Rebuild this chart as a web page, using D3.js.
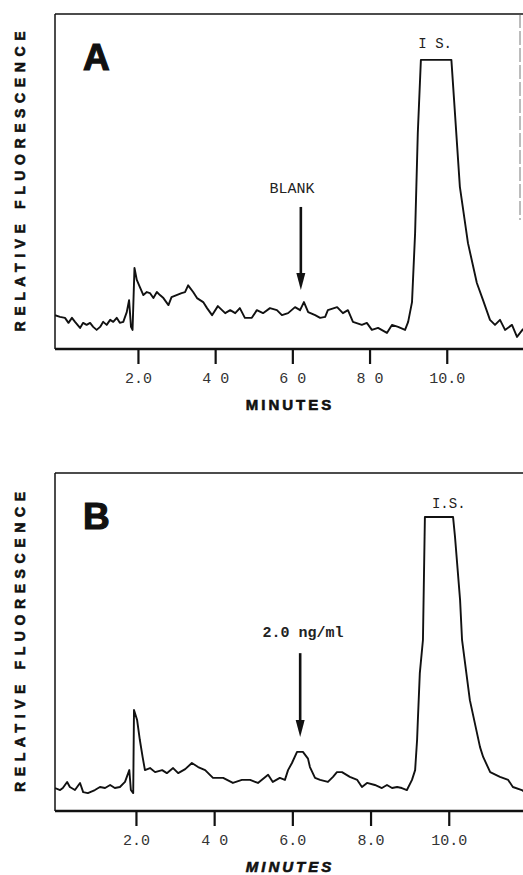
<!DOCTYPE html>
<html>
<head>
<meta charset="utf-8">
<script src="https://cdn.jsdelivr.net/npm/d3@7"></script>
<style>
  body { margin: 0; background: #fff; }
</style>
</head>
<body>
<div id="chart"></div>
<script>
// chromatogram A (blank): [minutes, relative fluorescence]
const traceA = [
  [-0.15, 10.1], [-0.02, 9.6], [0.11, 9.3], [0.20, 7.8], [0.29, 9.3], [0.37, 8.1], [0.50, 6.3],
  [0.58, 7.8], [0.67, 7.2], [0.76, 7.8], [0.84, 6.6], [0.93, 5.7], [1.02, 6.6], [1.10, 8.1],
  [1.19, 7.2], [1.28, 8.7], [1.36, 8.1], [1.45, 9.3], [1.53, 7.8], [1.62, 8.1], [1.71, 11.0],
  [1.77, 14.6], [1.82, 6.6], [1.86, 5.7], [1.91, 24.2], [1.97, 20.6], [2.05, 18.5], [2.14, 16.1],
  [2.23, 17.0], [2.31, 16.7], [2.40, 15.2], [2.49, 17.0], [2.57, 16.1], [2.66, 15.2], [2.79, 13.1],
  [2.87, 15.5], [3.00, 16.1], [3.13, 16.7], [3.22, 17.0], [3.30, 19.0], [3.43, 17.0], [3.53, 15.2],
  [3.69, 14.0], [3.79, 12.2], [3.92, 10.1], [4.07, 12.8], [4.26, 10.7], [4.39, 11.6], [4.52, 10.7],
  [4.64, 12.2], [4.77, 9.3], [4.95, 9.3], [5.08, 11.6], [5.24, 10.7], [5.42, 12.2], [5.60, 11.6],
  [5.73, 10.1], [5.89, 10.7], [6.07, 12.5], [6.20, 11.6], [6.30, 14.0], [6.41, 11.0], [6.59, 10.1],
  [6.72, 9.3], [6.85, 9.6], [6.92, 11.6], [7.16, 12.5], [7.31, 10.7], [7.44, 11.6], [7.57, 8.1],
  [7.80, 7.2], [7.93, 7.8], [8.06, 5.7], [8.22, 6.3], [8.45, 4.8], [8.58, 7.2], [8.74, 6.6],
  [8.92, 5.7], [9.00, 8.1], [9.10, 14.0], [9.18, 34.6], [9.25, 64.5], [9.33, 86.3], [10.12, 86.3],
  [10.19, 74.3], [10.34, 48.4], [10.55, 31.6], [10.78, 19.7], [10.94, 14.6], [11.12, 8.7],
  [11.25, 7.2], [11.38, 8.7], [11.51, 5.7], [11.69, 7.2], [11.82, 3.6], [11.90, 4.8], [11.98, 6.0]
];

// chromatogram B (2.0 ng/ml)
const traceB = [
  [-0.07, 6.8], [0.06, 6.2], [0.13, 6.8], [0.24, 8.6], [0.31, 7.1], [0.44, 6.2], [0.57, 8.3],
  [0.65, 5.6], [0.77, 5.3], [0.95, 6.2], [1.08, 7.1], [1.21, 6.8], [1.34, 7.7], [1.46, 6.8],
  [1.59, 7.1], [1.72, 8.6], [1.83, 12.1], [1.87, 6.2], [1.93, 5.3], [1.95, 29.9], [2.03, 26.9],
  [2.10, 21.0], [2.17, 16.0], [2.23, 12.1], [2.36, 12.7], [2.49, 11.5], [2.67, 12.1], [2.79, 11.2],
  [2.95, 12.7], [3.08, 11.2], [3.26, 12.4], [3.43, 14.2], [3.59, 13.0], [3.77, 12.1], [3.97, 9.8],
  [4.23, 9.8], [4.48, 8.3], [4.71, 9.2], [4.92, 9.2], [5.12, 8.3], [5.38, 10.7], [5.50, 8.6],
  [5.68, 9.8], [5.81, 9.2], [5.89, 12.1], [5.99, 14.2], [6.12, 17.5], [6.27, 17.5], [6.40, 15.5],
  [6.45, 13.0], [6.58, 9.8], [6.71, 9.2], [6.91, 8.6], [7.04, 10.1], [7.14, 11.5], [7.27, 11.5],
  [7.47, 10.1], [7.66, 9.2], [7.78, 7.1], [7.91, 8.3], [8.11, 7.7], [8.29, 6.8], [8.42, 7.7],
  [8.55, 6.8], [8.68, 7.1], [8.80, 6.8], [8.93, 6.2], [9.06, 9.2], [9.14, 12.1], [9.19, 21.0],
  [9.21, 26.9], [9.26, 40.8], [9.34, 50.6], [9.39, 87.0], [10.11, 87.0], [10.16, 81.1],
  [10.29, 62.4], [10.34, 50.6], [10.54, 32.8], [10.80, 18.9], [10.88, 16.0], [11.06, 11.5],
  [11.31, 10.1], [11.52, 9.2], [11.64, 7.1], [11.87, 6.2], [11.95, 5.5]
];

const tickValues = [2, 4, 6, 8, 10];
const tickLabelsA = ["2.0", "4 0", "6 0", "8 0", "10.0"];
const tickLabelsB = ["2.0", "4 0", "6.0", "8.0", "10.0"];

// annotations: [minutes, value]
const arrowA = { time: 6.22, from: 42.4, to: 17.6 };
const arrowB = { time: 6.20, from: 46.7, to: 21.9 };
const peakLabelA = { text: "I S.", time: 9.70, value: 89.9 };
const peakLabelB = { text: "I.S.", time: 10.0, value: 89.6 };
const noteA = { text: "BLANK", time: 5.99, value: 46.6 };
const noteB = { text: "2.0 ng/ml", time: 6.27, value: 51.5 };

const width = 523;
const height = 875;
const left = 55;

const panels = [
  { id: "A", trace: traceA, labels: tickLabelsA, arrow: arrowA, peak: peakLabelA, note: noteA,
    top: 14, bottom: 349, x0: 60.75, perMin: 38.6, italic: false, noteWeight: "normal" },
  { id: "B", trace: traceB, labels: tickLabelsB, arrow: arrowB, peak: peakLabelB, note: noteB,
    top: 473, bottom: 811, x0: 57.75, perMin: 39.1, italic: true, noteWeight: "bold" }
];

const svg = d3.select("#chart")
  .append("svg")
  .attr("width", width)
  .attr("height", height)
  .style("background", "#fff");

const mono = "'Liberation Mono', 'DejaVu Sans Mono', monospace";
const sans = "'Liberation Sans', Arial, sans-serif";

panels.forEach(function(p) {
  const x = d3.scaleLinear().domain([0, 12]).range([p.x0, p.x0 + 12 * p.perMin]);
  const y = d3.scaleLinear().domain([0, 100]).range([p.bottom, p.top]);
  const g = svg.append("g");

  // frame: top, left, and a faint right edge on A
  g.append("line").attr("x1", left).attr("x2", width).attr("y1", p.top).attr("y2", p.top)
    .attr("stroke", "#111").attr("stroke-width", 1.6);
  g.append("line").attr("x1", left).attr("x2", left).attr("y1", p.top).attr("y2", p.bottom)
    .attr("stroke", "#111").attr("stroke-width", 1.5);
  if (p.id === "A") {
    g.append("line").attr("x1", 520).attr("x2", 520).attr("y1", p.top).attr("y2", 220)
      .attr("stroke", "#555").attr("stroke-width", 0.8).attr("stroke-dasharray", "14,3");
  }

  // clip for the trace
  svg.append("clipPath").attr("id", "clip" + p.id)
    .append("rect").attr("x", left).attr("y", p.top).attr("width", width - left).attr("height", p.bottom - p.top);

  const line = d3.line().x(d => x(d[0])).y(d => y(d[1]));
  g.append("path")
    .datum(p.trace)
    .attr("clip-path", "url(#clip" + p.id + ")")
    .attr("fill", "none")
    .attr("stroke", "#111")
    .attr("stroke-width", 1.9)
    .attr("stroke-linejoin", "round")
    .attr("d", line);

  // bottom axis
  const axis = d3.axisBottom(x)
    .tickValues(tickValues)
    .tickSize(15)
    .tickPadding(8)
    .tickFormat((d, i) => p.labels[i]);
  const ax = g.append("g")
    .attr("transform", `translate(0,${p.bottom})`)
    .call(axis);
  ax.select(".domain").remove();
  ax.selectAll(".tick line").attr("stroke", "#111").attr("stroke-width", 2.2);
  ax.selectAll(".tick text")
    .attr("fill", "#333")
    .style("font-family", mono)
    .style("font-size", "15px");
  g.append("line").attr("x1", left).attr("x2", width).attr("y1", p.bottom).attr("y2", p.bottom)
    .attr("stroke", "#111").attr("stroke-width", 2.6);

  // x title
  g.append("text")
    .attr("x", 290).attr("y", p.bottom + 61)
    .attr("text-anchor", "middle")
    .style("font-family", sans).style("font-weight", "900")
    .style("font-style", p.italic ? "italic" : "normal")
    .style("font-size", "15px").style("letter-spacing", "3px")
    .attr("fill", "#111").attr("stroke", "#111").attr("stroke-width", 0.6)
    .text("MINUTES");

  // y title
  g.append("text")
    .attr("transform", `translate(25,${(p.top + p.bottom) / 2}) rotate(-90)`)
    .attr("text-anchor", "middle")
    .attr("textLength", 300).attr("lengthAdjust", "spacing")
    .style("font-family", sans).style("font-weight", "900").style("font-size", "14px")
    .attr("fill", "#111").attr("stroke", "#111").attr("stroke-width", 0.6)
    .text("RELATIVE FLUORESCENCE");

  // panel letter
  g.append("text")
    .attr("x", left + 28).attr("y", p.top + 56)
    .style("font-family", sans).style("font-weight", "900").style("font-size", "37px")
    .attr("fill", "#111").attr("stroke", "#111").attr("stroke-width", 1.2)
    .text(p.id);

  // peak and note labels
  g.append("text")
    .attr("x", x(p.peak.time)).attr("y", y(p.peak.value))
    .attr("text-anchor", "middle")
    .style("font-family", mono).style("font-size", "14px")
    .attr("fill", "#222")
    .text(p.peak.text);
  g.append("text")
    .attr("x", x(p.note.time)).attr("y", y(p.note.value))
    .attr("text-anchor", "middle")
    .style("font-family", mono).style("font-size", "15px").style("font-weight", p.noteWeight)
    .attr("fill", "#222")
    .text(p.note.text);

  // arrow
  const ax0 = x(p.arrow.time);
  const yTip = y(p.arrow.to);
  g.append("line")
    .attr("x1", ax0).attr("x2", ax0)
    .attr("y1", y(p.arrow.from)).attr("y2", yTip - 12)
    .attr("stroke", "#111").attr("stroke-width", 2.6);
  g.append("path")
    .attr("d", `M${ax0 - 4.5},${yTip - 17} L${ax0 + 4.5},${yTip - 17} L${ax0},${yTip} Z`)
    .attr("fill", "#111");
});
</script>
</body>
</html>
